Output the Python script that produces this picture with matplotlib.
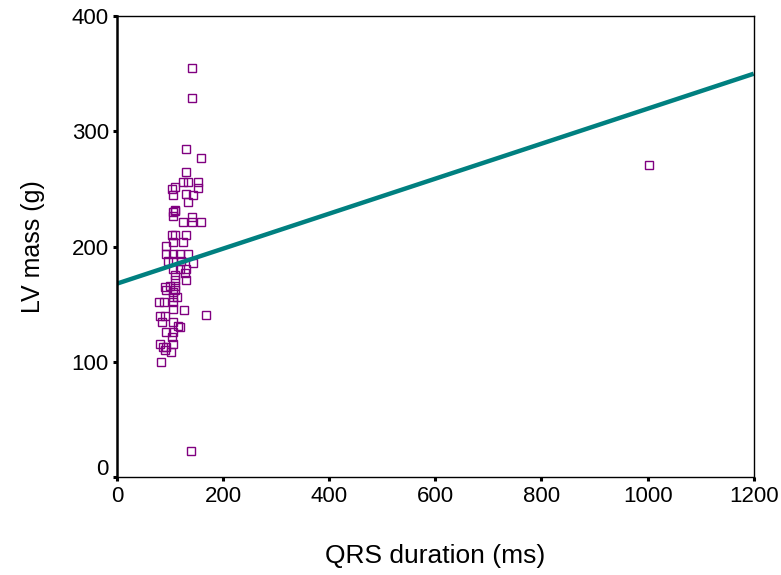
import matplotlib.pyplot as plt
import matplotlib.transforms as mtransforms

plt.rcParams['font.family'] = ['Liberation Sans', 'DejaVu Sans']

# QRS duration (ms) and LV mass (g)
qrs = [142, 142, 129, 159, 129, 124, 133, 153, 153, 110, 104, 105, 129, 143, 133, 109,
       105, 110, 105, 142, 124, 142, 159,
       104, 110, 129, 93, 105, 124,
       93, 105, 118, 134,
       95, 105, 121, 143,
       105, 118, 130,
       109, 127, 109, 129,
       90, 99, 109, 105, 110, 93,
       105, 113,
       78, 88, 105,
       105, 126,
       168,
       80, 90,
       85, 105, 115, 118,
       93, 105, 104,
       105, 80, 87, 93, 90, 102,
       82,
       140,
       1003]
lv_mass = [355, 329, 285, 277, 265, 256, 256, 256, 251, 252, 250, 245, 246, 245, 239, 232,
           230, 231, 227, 226, 221, 221, 221,
           210, 210, 210, 201, 204, 204,
           194, 194, 194, 194,
           188, 188, 188, 186,
           181, 181, 181,
           175, 177, 171, 171,
           165, 166, 166, 161, 162, 162,
           156, 156,
           152, 152, 152,
           146, 145,
           141,
           140, 140,
           135, 135, 131, 130,
           126, 126, 122,
           116, 116, 113, 113, 110, 109,
           100,
           23,
           271]

# fitted line
fit_x = [0, 1200]
fit_y = [168, 350]

x_ticks = [0, 200, 400, 600, 800, 1000, 1200]
y_ticks = [0, 100, 200, 300, 400]

fig = plt.figure(figsize=(7.81, 5.75), dpi=100)
ax = fig.add_axes([0.150, 0.170, 0.815, 0.802])

ax.plot(qrs, lv_mass, linestyle='none', marker='s', markersize=5.5,
        markerfacecolor='none', markeredgecolor='#800080', markeredgewidth=1.0)
ax.plot(fit_x, fit_y, color='#008080', linewidth=3.2, solid_capstyle='butt')

ax.set_xlim(0, 1200)
ax.set_ylim(0, 400)
ax.set_xticks(x_ticks)
ax.set_yticks(y_ticks)
ax.tick_params(direction='out', length=3, width=2.2, labelsize=16, pad=3)

for side in ['top', 'right', 'bottom']:
    ax.spines[side].set_linewidth(1.0)
ax.spines['left'].set_linewidth(1.8)

# the y "0" label sits slightly above its tick
lbl0 = ax.get_yticklabels()[0]
lbl0.set_transform(lbl0.get_transform() + mtransforms.ScaledTranslation(0, 10 / 100, fig.dpi_scale_trans))

ax.set_xlabel('QRS duration (ms)', fontsize=19, labelpad=27)
ax.set_ylabel('LV mass (g)', fontsize=18, labelpad=19)

fig.savefig('out.png', dpi=100)
